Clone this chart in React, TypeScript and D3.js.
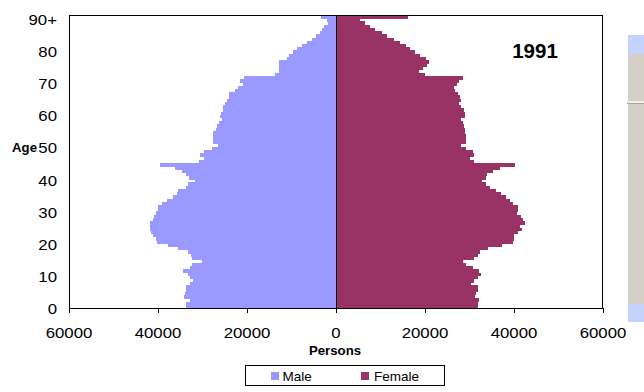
import React from "react";
import * as d3 from "d3";

// Single-year ages 0..89, plus the open-ended 90+ group
const ages: string[] = d3.range(0, 91).map((a) => (a === 90 ? "90+" : String(a)));

// Persons by single year of age (index 0 = age 0, last = 90+)
const male: number[] = [
  33700, 33600, 32800, 34200, 33900, 33600, 33600, 32800, 32100, 32800,
  33200, 34300, 32800, 32400, 30200, 32300, 32600, 33200, 35400, 37700,
  40300, 40400, 41200, 41600, 41900, 41900, 41800, 41200, 40900, 40400,
  40100, 39900, 39200, 37900, 36700, 35700, 35400, 33600, 33200, 31700,
  33000, 33600, 34500, 36200, 39600, 30800, 29600, 30600, 29600, 27800,
  26600, 27600, 27600, 27600, 27600, 27000, 26700, 26200, 25700, 26100,
  25800, 25300, 25300, 24900, 24400, 24000, 24000, 22700, 22000, 21000,
  21600, 20700, 13700, 12800, 12700, 12700, 12900, 11100, 10500, 9600,
  8700, 7600, 6600, 5500, 4500, 3700, 3100, 2600, 1900, 2100,
  3400,
];

const female: number[] = [
  32000, 32000, 32100, 31200, 31500, 32000, 31800, 30300, 31100, 31800,
  32500, 32200, 30700, 29200, 28600, 30900, 32000, 32400, 34100, 37200,
  39700, 39900, 40000, 41000, 41700, 41300, 42500, 42100, 41600, 40600,
  40800, 40800, 39700, 39000, 38200, 37100, 36000, 34600, 33700, 32700,
  33700, 33900, 35200, 36900, 40200, 31000, 30000, 31000, 30700, 29200,
  28000, 29200, 29200, 29200, 29000, 29000, 28800, 28500, 28000, 29000,
  29000, 28800, 28200, 27700, 28100, 27900, 27500, 26700, 26600, 27200,
  27600, 28600, 20000, 18700, 19500, 20400, 20900, 20200, 18900, 17800,
  16600, 15700, 14400, 13000, 11400, 10300, 8800, 7600, 6500, 5400,
  16200,
];

const xTicks: number[] = [-60000, -40000, -20000, 0, 20000, 40000, 60000];
const yTickLabels: string[] = ["0", "10", "20", "30", "40", "50", "60", "70", "80", "90+"];
const seriesNames: string[] = ["Male", "Female"];
const seriesColors: string[] = ["#9999FF", "#993366"];
const title = "1991";

const W = 644;
const H = 392;
const plot = { left: 69, right: 603, top: 15, bottom: 308 };
const FONT = "'Liberation Sans', Arial, Helvetica, sans-serif";

export default function App() {
  const x = d3.scaleLinear().domain([-60000, 60000]).range([plot.left, plot.right]);
  const y = d3.scaleBand<string>().domain(ages).range([plot.bottom, plot.top]).padding(0);
  const bw = y.bandwidth();
  const x0 = x(0);

  return (
    <svg
      width={W}
      height={H}
      viewBox={`0 0 ${W} ${H}`}
      style={{ position: "absolute", left: 0, top: 0, background: "#fff" }}
      fontFamily={FONT}
    >
      {/* bars */}
      <g shapeRendering="crispEdges">
        {ages.map((a, i) => (
          <rect
            key={`m${a}`}
            x={x(-male[i])}
            y={y(a)}
            width={x0 - x(-male[i])}
            height={bw + 0.3}
            fill={seriesColors[0]}
          />
        ))}
        {ages.map((a, i) => (
          <rect
            key={`f${a}`}
            x={x0}
            y={y(a)}
            width={x(female[i]) - x0}
            height={bw + 0.3}
            fill={seriesColors[1]}
          />
        ))}
      </g>

      {/* plot frame and zero line */}
      <g shapeRendering="crispEdges" stroke="#000" fill="none">
        <rect
          x={plot.left + 0.5}
          y={plot.top + 0.5}
          width={plot.right - plot.left - 1}
          height={plot.bottom - plot.top}
        />
        <line x1={x0 + 0.5} x2={x0 + 0.5} y1={plot.top} y2={plot.bottom} />
      </g>

      {/* x axis ticks and labels */}
      <g>
        {xTicks.map((t) => (
          <g key={t}>
            <line
              x1={Math.round(x(t)) + 0.5}
              x2={Math.round(x(t)) + 0.5}
              y1={plot.bottom}
              y2={plot.bottom + 5}
              stroke="#000"
              shapeRendering="crispEdges"
            />
            <text
              transform={`translate(${x(t)},${338}) scale(1.12,1)`}
              textAnchor="middle"
              fontSize={15}
              fill="#000"
            >
              {Math.abs(t)}
            </text>
          </g>
        ))}
        <text
          transform={`translate(${x0 - 1},${355}) scale(1.1,1)`}
          textAnchor="middle"
          fontSize={12}
          fontWeight="bold"
          fill="#000"
        >
          Persons
        </text>
      </g>

      {/* y axis labels */}
      <g>
        {yTickLabels.map((lab, i) => {
          const a = ages[i * 10];
          const cy = (y(a) as number) + bw / 2 + 2.5;
          return (
            <text
              key={lab}
              transform={`translate(57,${cy}) scale(1.12,1)`}
              textAnchor="end"
              dy="0.36em"
              fontSize={15}
              fill="#000"
            >
              {lab}
            </text>
          );
        })}
        <text
          transform={`translate(37,${(y("50") as number) + bw / 2 + 2.5}) scale(1.1,1)`}
          textAnchor="end"
          dy="0.36em"
          fontSize={12}
          fontWeight="bold"
          fill="#000"
        >
          Age
        </text>
      </g>

      {/* year title */}
      <text x={535} y={58} textAnchor="middle" fontSize={20.5} fontWeight="bold" fill="#000">
        {title}
      </text>

      {/* legend */}
      <g>
        <rect x={245.5} y={365.5} width={199} height={20} fill="#fff" stroke="#000" shapeRendering="crispEdges" />
        {seriesNames.map((name, i) => {
          const sx = i === 0 ? 271 : 361;
          const tx = i === 0 ? 282.5 : 374;
          return (
            <g key={name}>
              <rect x={sx} y={372} width={8} height={8} fill={seriesColors[i]} shapeRendering="crispEdges" />
              <text x={tx} y={381} fontSize={13.5} fill="#000">
                {name}
              </text>
            </g>
          );
        })}
      </g>

      {/* window scrollbar strip at the right edge */}
      <g shapeRendering="crispEdges">
        <rect x={628} y={35} width={16} height={287} fill="#d4d0c8" />
        <rect x={628} y={35} width={16} height={19} fill="#c3d3fb" />
        <rect x={628} y={304} width={16} height={18} fill="#c3d3fb" />
        <rect x={627} y={101} width={17} height={2} fill="#f2efe6" />
        <rect x={627} y={103} width={17} height={1} fill="#a8a498" />
      </g>
    </svg>
  );
}
